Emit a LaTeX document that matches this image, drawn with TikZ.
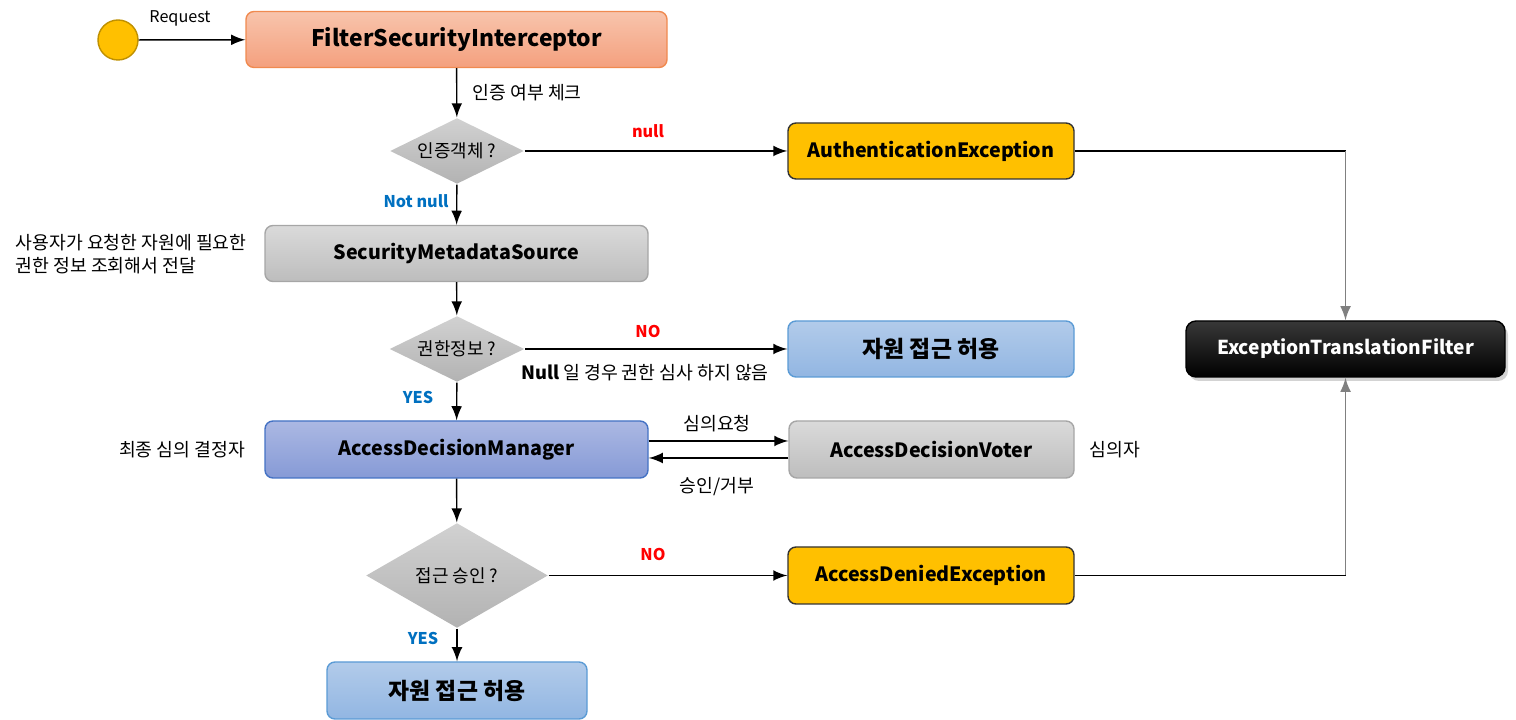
\documentclass[tikz,border=0pt]{standalone}
\usepackage{fontspec}
\setmainfont{Noto Sans CJK KR}
\usetikzlibrary{shapes.geometric,shadows}

\definecolor{gold}{HTML}{FFC000}
\definecolor{goldline}{HTML}{BF9000}
\definecolor{salmontop}{HTML}{F8C4AC}
\definecolor{salmonbot}{HTML}{F4A07E}
\definecolor{salmonline}{HTML}{F08A50}
\definecolor{greytop}{HTML}{DADADA}
\definecolor{greybot}{HTML}{BDBDBD}
\definecolor{greyline}{HTML}{A6A6A6}
\definecolor{skytop}{HTML}{B2CBEA}
\definecolor{skybot}{HTML}{92B6E2}
\definecolor{skyline}{HTML}{5B9BD5}
\definecolor{navytop}{HTML}{ABB8E3}
\definecolor{navybot}{HTML}{869AD6}
\definecolor{navyline}{HTML}{4472C4}
\definecolor{nored}{HTML}{FF0000}
\definecolor{yesblue}{HTML}{0070C0}
\definecolor{wire}{HTML}{808080}

\begin{document}
\begin{tikzpicture}[-latex, thin,
box/.style = {draw, rounded corners=0.08cm, minimum height=0.56cm, inner sep=0pt,
  font=\bfseries\fontsize{5.6}{6.8}\selectfont},
fsi/.style = {box, draw=salmonline, top color=salmontop, bottom color=salmonbot,
  font=\bfseries\fontsize{6.5}{7.5}\selectfont},
gold/.style = {box, draw=black!80, fill=gold},
grey/.style = {box, draw=greyline, top color=greytop, bottom color=greybot},
sky/.style = {box, draw=skyline, top color=skytop, bottom color=skybot,
  font=\bfseries\fontsize{6.5}{7.5}\selectfont},
navy/.style = {box, draw=navyline, top color=navytop, bottom color=navybot},
dark/.style = {box, draw=black, rounded corners=0.1cm, top color=black!78, bottom color=black,
  text=white, font=\bfseries\fontsize{5.45}{6.5}\selectfont,
  drop shadow={shadow xshift=0.03cm, shadow yshift=-0.04cm, opacity=0.35}},
ask/.style = {diamond, aspect=2, draw=none, inner sep=0pt, top color=black!18, bottom color=black!30,
  font=\fontsize{5.1}{6}\selectfont},
note/.style = {font=\fontsize{5.2}{6.6}\selectfont, inner sep=0pt},
nolabel/.style = {note, font=\bfseries\fontsize{4.6}{6}\selectfont, text=nored},
yeslabel/.style = {note, font=\bfseries\fontsize{4.6}{6}\selectfont, text=yesblue}]
    \useasboundingbox (0,0) rectangle (15.16,-7.20);

    % main column
    \node[circle, draw=goldline, fill=gold, minimum size=0.40cm, inner sep=0pt] (0) at (1.18,-0.40) {};
    \node[fsi, minimum width=4.21cm] (1) at (4.565,-0.395) {FilterSecurityInterceptor};
    \node[ask, minimum width=1.34cm, minimum height=0.66cm] (2) at (4.57,-1.51) {인증객체 ?};
    \node[grey, minimum width=3.83cm] (3) at (4.565,-2.535) {SecurityMetadataSource};
    \node[ask, minimum width=1.35cm, minimum height=0.66cm] (4) at (4.57,-3.49) {권한정보 ?};
    \node[navy, minimum width=3.83cm, minimum height=0.57cm] (5) at (4.565,-4.495) {AccessDecisionManager};
    \node[ask, aspect=1.73, minimum width=1.82cm, minimum height=1.05cm] (6) at (4.57,-5.755) {접근 승인 ?};
    \node[sky, minimum width=2.60cm, minimum height=0.57cm] (7) at (4.57,-6.905) {자원 접근 허용};

    % right column
    \node[gold, minimum width=2.86cm] (8) at (9.31,-1.51) {AuthenticationException};
    \node[sky, minimum width=2.86cm] (9) at (9.31,-3.49) {자원 접근 허용};
    \node[grey, minimum width=2.85cm, minimum height=0.57cm] (10) at (9.315,-4.495) {AccessDecisionVoter};
    \node[gold, minimum width=2.86cm, minimum height=0.57cm] (11) at (9.31,-5.755) {AccessDeniedException};
    \node[dark, minimum width=3.19cm] (12) at (13.455,-3.49) {ExceptionTranslationFilter};

    % texts
    \node[note, font=\fontsize{4.6}{6}\selectfont] (r) at (1.80,-0.18) {Request};
    \node[note, anchor=west] (t1) at (4.72,-0.93) {인증 여부 체크};
    \node[nolabel] (n1) at (6.48,-1.31) {null};
    \node[yeslabel] (y1) at (4.16,-2.01) {Not null};
    \node[note, anchor=west, align=left] (t2) at (0.15,-2.545) {사용자가 요청한 자원에 필요한\\권한 정보 조회해서 전달};
    \node[nolabel] (n2) at (6.48,-3.31) {NO};
    \node[note] (t3) at (6.45,-3.73) {\textbf{Null} 일 경우 권한 심사 하지 않음};
    \node[yeslabel] (y2) at (4.18,-3.97) {YES};
    \node[note] (t4) at (1.82,-4.50) {최종 심의 결정자};
    \node[note] (t5) at (7.17,-4.24) {심의요청};
    \node[note] (t6) at (7.17,-4.87) {승인/거부};
    \node[note] (t7) at (11.15,-4.50) {심의자};
    \node[nolabel] (n3) at (6.53,-5.54) {NO};
    \node[yeslabel] (y3) at (4.23,-6.38) {YES};

    \coordinate (c1) at (13.455,-1.51);
    \coordinate (c2) at (13.455,-5.755);

    \draw (0) -- (1);
    \draw (1) -- (2);
    \draw (2) -- (3);
    \draw (3) -- (4);
    \draw (4) -- (5);
    \draw (5) -- (6);
    \draw (6) -- (7);

    \draw (2) -- (8);
    \draw (4) -- (9);
    \draw (6) -- (11);
    \draw ([yshift=0.085cm]5.east) -- ([yshift=0.085cm]10.west);
    \draw ([yshift=-0.085cm]10.west) -- ([yshift=-0.085cm]5.east);

    \draw[-] (8) -- (c1);
    \draw[wire] (c1) -- (12);
    \draw[-] (11) -- (c2);
    \draw[wire] (c2) -- (12);

\end{tikzpicture}
\end{document}
